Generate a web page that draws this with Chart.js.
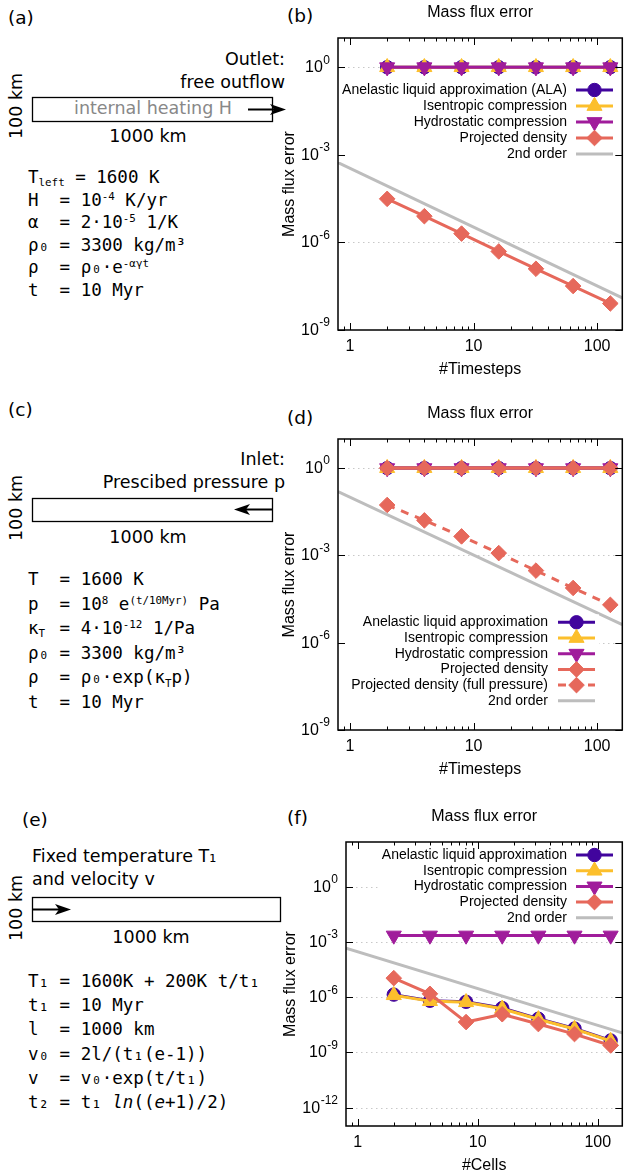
<!DOCTYPE html>
<html>
<head>
<meta charset="utf-8">
<script src="https://cdn.jsdelivr.net/npm/chart.js@4.4.1/dist/chart.umd.min.js"></script>
<style>
html, body { margin: 0; padding: 0; background: #fff; }
body { width: 627px; height: 1173px; position: relative; overflow: hidden; font-family: "DejaVu Sans", sans-serif; color: #000; }
.t { position: absolute; white-space: pre; line-height: 1; transform: translateY(-50%); }
.lab { font-size: 17.5px; }
.pl { font-size: 18.5px; }
.c { transform: translate(-50%, -50%); }
.v { transform: translate(-50%, -50%) rotate(-90deg); }
.eq { font-family: "DejaVu Sans Mono", monospace; font-size: 17.5px; }
.eq sup { font-size: 0.62em; position: relative; top: -0.55em; vertical-align: baseline; }
.eq sub { font-size: 0.62em; position: relative; top: 0.3em; vertical-align: baseline; }
.eq sub.w { display: inline-block; width: 10.5px; }
canvas { position: absolute; left: 280px; }
</style>
</head>
<body>

<svg width="627" height="1173" style="position:absolute;left:0;top:0">
  <g stroke="#000" stroke-width="1.3" fill="none">
    <rect x="32.5" y="97.5" width="240" height="24"/>
    <rect x="32.5" y="498.5" width="240" height="23"/>
    <rect x="32.5" y="897.5" width="248" height="24"/>
    <line x1="248" y1="109.5" x2="276" y2="109.5" stroke-width="2"/>
    <line x1="272" y1="509.5" x2="244" y2="509.5" stroke-width="2"/>
    <line x1="32" y1="909.5" x2="61" y2="909.5" stroke-width="2"/>
  </g>
  <g fill="#000">
    <polygon points="286,109.5 270,104 274,109.5 270,115"/>
    <polygon points="234,509.5 250,504 246,509.5 250,515"/>
    <polygon points="71,909.5 55,904 59,909.5 55,915"/>
  </g>
</svg>

<!-- (a) -->
<div class="t pl" style="left:8px;top:18px">(a)</div>
<div class="t lab" style="right:342px;top:60px">Outlet:</div>
<div class="t lab" style="right:342px;top:83px">free outflow</div>
<div class="t lab c" style="left:153px;top:109px;color:#888">internal heating H</div>
<div class="t lab v" style="left:17px;top:106px">100 km</div>
<div class="t lab c" style="left:148px;top:137px">1000 km</div>
<div class="t eq" style="left:28px;top:178px">T<sub>left</sub> = 1600 K</div>
<div class="t eq" style="left:28px;top:200.6px">H  = 10<sup>-4</sup> K/yr</div>
<div class="t eq" style="left:28px;top:223.2px">α  = 2·10<sup>-5</sup> 1/K</div>
<div class="t eq" style="left:28px;top:245.8px">ρ₀ = 3300 kg/m³</div>
<div class="t eq" style="left:28px;top:268.4px">ρ  = ρ₀·e<sup>-αγt</sup></div>
<div class="t eq" style="left:28px;top:291px">t  = 10 Myr</div>

<!-- (c) -->
<div class="t pl" style="left:8px;top:410px">(c)</div>
<div class="t lab" style="right:342px;top:460px">Inlet:</div>
<div class="t lab" style="right:342px;top:483px">Prescibed pressure p</div>
<div class="t lab v" style="left:17px;top:508px">100 km</div>
<div class="t lab c" style="left:148px;top:538px">1000 km</div>
<div class="t eq" style="left:28px;top:580px">T  = 1600 K</div>
<div class="t eq" style="left:28px;top:604.6px">p  = 10<sup>8</sup> e<sup>(t/10Myr)</sup> Pa</div>
<div class="t eq" style="left:28px;top:629.2px">κ<sub class="w">T</sub> = 4·10<sup>-12</sup> 1/Pa</div>
<div class="t eq" style="left:28px;top:653.8px">ρ₀ = 3300 kg/m³</div>
<div class="t eq" style="left:28px;top:678.4px">ρ  = ρ₀·exp(κ<sub>T</sub>p)</div>
<div class="t eq" style="left:28px;top:703px">t  = 10 Myr</div>

<!-- (e) -->
<div class="t pl" style="left:22px;top:820px">(e)</div>
<div class="t lab" style="left:32px;top:857px">Fixed temperature T₁</div>
<div class="t lab" style="left:32px;top:880px">and velocity v</div>
<div class="t lab v" style="left:17px;top:908px">100 km</div>
<div class="t lab c" style="left:151px;top:938px">1000 km</div>
<div class="t eq" style="left:28px;top:982px">T₁ = 1600K + 200K t/t₁</div>
<div class="t eq" style="left:28px;top:1006.2px">t₁ = 10 Myr</div>
<div class="t eq" style="left:28px;top:1030.4px">l  = 1000 km</div>
<div class="t eq" style="left:28px;top:1054.6px">v₀ = 2l/(t₁(e-1))</div>
<div class="t eq" style="left:28px;top:1078.8px">v  = v₀·exp(t/t₁)</div>
<div class="t eq" style="left:28px;top:1103px">t₂ = t₁ <i>ln</i>((<i>e</i>+1)/2)</div>

<!-- chart panel letters -->
<div class="t pl" style="left:287px;top:16px">(b)</div>
<div class="t pl" style="left:287px;top:418px">(d)</div>
<div class="t pl" style="left:287px;top:818px">(f)</div>

<canvas id="chartB" width="352" height="390" style="top:0px"></canvas>
<canvas id="chartD" width="352" height="390" style="top:390px"></canvas>
<canvas id="chartF" width="352" height="393" style="top:780px"></canvas>

<script>
// x values (timesteps / cells) and the 2nd-order guide end points
const steps = [2, 4, 8, 16, 32, 64, 128];
const cells = [2, 4, 8, 16, 32, 64, 128];
const guideX = [0.8, 160];

// tick positions
const xMajor = [1, 10, 100];
const xMinor = [0.9, 2, 3, 4, 5, 6, 7, 8, 9, 20, 30, 40, 50, 60, 70, 80, 90];
const yExpsBD = [0, -3, -6, -9];
const yExpsF = [0, -3, -6, -9, -12];

// (b) internal heating
const bAla = [1, 1, 1, 1, 1, 1, 1];
const bIsen = [1, 1, 1, 1, 1, 1, 1];
const bHydro = [1, 1, 1, 1, 1, 1, 1];
const bProj = [3.1e-5, 7.9e-6, 2.0e-6, 4.9e-7, 1.25e-7, 3.2e-8, 8.1e-9];
const bGuide = [5.4e-4, 1.26e-8];

// (d) prescribed pressure
const dAla = [1, 1, 1, 1, 1, 1, 1];
const dIsen = [1, 1, 1, 1, 1, 1, 1];
const dHydro = [1, 1, 1, 1, 1, 1, 1];
const dProj = [1, 1, 1, 1, 1, 1, 1];
const dProjFull = [5.4e-2, 1.6e-2, 4.5e-3, 1.2e-3, 3.0e-4, 7.6e-5, 2.0e-5];
const dGuide = [0.155, 4.2e-6];

// (f) fixed temperature and velocity
const fAla = [1.4e-6, 6.5e-7, 5.7e-7, 2.6e-7, 6.8e-8, 2.0e-8, 4.5e-9];
const fIsen = [1.3e-6, 6.2e-7, 5.4e-7, 2.4e-7, 6.4e-8, 1.9e-8, 4.2e-9];
const fHydro = [2.3e-3, 2.3e-3, 2.3e-3, 2.3e-3, 2.3e-3, 2.3e-3, 2.3e-3];
const fProj = [1.1e-5, 1.55e-6, 4.5e-8, 1.2e-7, 3.5e-8, 1.0e-8, 2.4e-9];
const fGuide = [4.7e-4, 1.17e-8];

const cAla = '#41049d';
const cIsen = '#fcbf2c';
const cHydro = '#a01c9b';
const cProj = '#e6685b';
const cGuide = '#bdbdbd';

const FONT = '"Liberation Sans", Arial, sans-serif';

function pts(xs, ys) {
  return xs.map((x, i) => ({ x: x, y: ys[i] }));
}

function series(label, xs, ys, color, kind, dashed) {
  const d = {
    label: label,
    data: pts(xs, ys),
    showLine: true,
    borderColor: color,
    backgroundColor: color,
    pointBackgroundColor: color,
    pointBorderColor: color,
    pointBorderWidth: 1,
    borderWidth: 3,
    pointRadius: 0,
    pointHoverRadius: 0
  };
  if (kind == 'circle') { d.pointStyle = 'circle'; d.pointRadius = 6.7; }
  if (kind == 'up') { d.pointStyle = 'triangle'; d.pointRadius = 8.7; }
  if (kind == 'down') { d.pointStyle = 'triangle'; d.pointRadius = 8.7; d.pointRotation = 180; }
  if (kind == 'diamond') { d.pointStyle = 'rectRot'; d.pointRadius = 7.8; }
  if (dashed) d.borderDash = [8, 7];
  d.pointHoverRadius = d.pointRadius;
  return d;
}

function marker(ctx, d, x, y) {
  ctx.fillStyle = d.pointBackgroundColor;
  ctx.strokeStyle = d.pointBorderColor;
  ctx.lineWidth = 1;
  if (Chart.helpers && Chart.helpers.drawPoint) {
    Chart.helpers.drawPoint(ctx, { pointStyle: d.pointStyle, radius: d.pointRadius, rotation: d.pointRotation || 0, borderWidth: 1 }, x, y);
    return;
  }
  const r = d.pointRadius;
  ctx.beginPath();
  if (d.pointStyle == 'circle') ctx.arc(x, y, r, 0, Math.PI * 2);
  else if (d.pointStyle == 'rectRot') { ctx.moveTo(x, y - r); ctx.lineTo(x + r, y); ctx.lineTo(x, y + r); ctx.lineTo(x - r, y); }
  else {
    const s = d.pointRotation ? -1 : 1;
    ctx.moveTo(x, y - s * r); ctx.lineTo(x + r * 0.866, y + s * r / 2); ctx.lineTo(x - r * 0.866, y + s * r / 2);
  }
  ctx.closePath(); ctx.fill(); ctx.stroke();
}

const framePlugin = {
  id: 'frame',
  beforeDatasetsDraw(chart) {
    const o = chart.options.plugins.frame;
    const a = chart.chartArea, ctx = chart.ctx, y = chart.scales.y;
    ctx.save();
    ctx.strokeStyle = '#c8c8c8';
    ctx.lineWidth = 1;
    ctx.setLineDash([1.5, 3.5]);
    o.yExps.forEach(e => {
      const py = Math.round(y.getPixelForValue(Math.pow(10, e))) + 0.5;
      if (py > a.bottom - 3) return;
      ctx.beginPath(); ctx.moveTo(a.left, py); ctx.lineTo(a.right, py); ctx.stroke();
    });
    ctx.restore();
  },
  afterDatasetsDraw(chart) {
    const o = chart.options.plugins.frame;
    const a = chart.chartArea, ctx = chart.ctx;
    const x = chart.scales.x, y = chart.scales.y;
    ctx.save();

    // key box
    ctx.font = '14px ' + FONT;
    const items = chart.data.datasets;
    let w = 0;
    items.forEach(d => { w = Math.max(w, ctx.measureText(d.label).width); });
    ctx.fillStyle = '#fff';
    const kx0 = o.keyRight - w - 4;
    ctx.fillRect(kx0, o.keyY - 8, o.sampleX1 + 4 - kx0, (items.length - 1) * o.keyGap + 16);
    items.forEach((d, i) => {
      const yy = o.keyY + i * o.keyGap;
      ctx.fillStyle = '#000';
      ctx.textAlign = 'right';
      ctx.textBaseline = 'middle';
      ctx.fillText(d.label, o.keyRight, yy);
      ctx.strokeStyle = d.borderColor;
      ctx.lineWidth = d.borderWidth;
      ctx.setLineDash(d.borderDash || []);
      ctx.beginPath(); ctx.moveTo(o.sampleX0, yy); ctx.lineTo(o.sampleX1, yy); ctx.stroke();
      ctx.setLineDash([]);
      if (d.pointRadius > 0) marker(ctx, d, (o.sampleX0 + o.sampleX1) / 2, yy);
    });

    // border and ticks
    ctx.strokeStyle = '#000';
    ctx.lineWidth = 1.5;
    ctx.strokeRect(a.left, a.top, a.right - a.left, a.bottom - a.top);
    ctx.lineWidth = 1;
    const tick = (v, len) => {
      const px = Math.round(x.getPixelForValue(v)) + 0.5;
      ctx.beginPath();
      ctx.moveTo(px, a.bottom); ctx.lineTo(px, a.bottom - len);
      ctx.moveTo(px, a.top); ctx.lineTo(px, a.top + len);
      ctx.stroke();
    };
    xMajor.forEach(v => tick(v, 7));
    xMinor.forEach(v => tick(v, 3.5));
    o.yExps.forEach(e => {
      const py = Math.round(y.getPixelForValue(Math.pow(10, e))) + 0.5;
      ctx.beginPath();
      ctx.moveTo(a.left, py); ctx.lineTo(a.left + 7, py);
      ctx.moveTo(a.right, py); ctx.lineTo(a.right - 7, py);
      ctx.stroke();
    });

    // tick labels
    ctx.fillStyle = '#000';
    ctx.textBaseline = 'middle';
    ctx.font = '16px ' + FONT;
    ctx.textAlign = 'center';
    xMajor.forEach(v => ctx.fillText(String(v), x.getPixelForValue(v), a.bottom + 17));
    o.yExps.forEach(e => {
      const py = y.getPixelForValue(Math.pow(10, e));
      const ex = String(e);
      ctx.font = '12px ' + FONT;
      const ew = ctx.measureText(ex).width;
      ctx.textAlign = 'left';
      ctx.fillText(ex, a.left - 8 - ew, py - 7);
      ctx.font = '16px ' + FONT;
      ctx.textAlign = 'right';
      ctx.fillText('10', a.left - 8 - ew - 0.5, py + 0.5);
    });

    // titles
    ctx.font = '16px ' + FONT;
    ctx.textAlign = 'center';
    const cx = (a.left + a.right) / 2;
    ctx.fillText('Mass flux error', cx, a.top - 25);
    ctx.fillText(o.xTitle, cx, a.bottom + 40);
    ctx.translate(o.yTitleX, (a.top + a.bottom) / 2);
    ctx.rotate(-Math.PI / 2);
    ctx.fillText('Mass flux error', 0, 0);
    ctx.restore();
  }
};

function makeChart(id, datasets, opts) {
  // later datasets drawn on top, like the original
  datasets.forEach((d, i) => { d.order = datasets.length - i; });
  return new Chart(document.getElementById(id), {
    type: 'scatter',
    data: { datasets: datasets },
    plugins: [framePlugin],
    options: {
      responsive: false,
      animation: false,
      devicePixelRatio: 1,
      events: [],
      layout: { padding: opts.padding },
      scales: {
        x: { type: 'logarithmic', min: 0.8, max: 160, display: false },
        y: { type: 'logarithmic', min: opts.yMin, max: opts.yMax, display: false }
      },
      plugins: {
        legend: { display: false },
        tooltip: { enabled: false },
        frame: opts.frame
      }
    }
  });
}

makeChart('chartB', [
  series('Anelastic liquid approximation (ALA)', steps, bAla, cAla, 'circle'),
  series('Isentropic compression', steps, bIsen, cIsen, 'up'),
  series('Hydrostatic compression', steps, bHydro, cHydro, 'down'),
  series('Projected density', steps, bProj, cProj, 'diamond'),
  series('2nd order', guideX, bGuide, cGuide, 'none')
], {
  padding: { left: 58, top: 38, right: 3, bottom: 60 },
  yMin: 1e-9, yMax: 1e1,
  frame: { yExps: yExpsBD, xTitle: '#Timesteps', yTitleX: 10, keyRight: 287, sampleX0: 296, sampleX1: 333, keyY: 90, keyGap: 16 }
});

makeChart('chartD', [
  series('Anelastic liquid approximation', steps, dAla, cAla, 'circle'),
  series('Isentropic compression', steps, dIsen, cIsen, 'up'),
  series('Hydrostatic compression', steps, dHydro, cHydro, 'down'),
  series('Projected density', steps, dProj, cProj, 'diamond'),
  series('Projected density (full pressure)', steps, dProjFull, cProj, 'diamond', true),
  series('2nd order', guideX, dGuide, cGuide, 'none')
], {
  padding: { left: 58, top: 49, right: 3, bottom: 50 },
  yMin: 1e-9, yMax: 1e1,
  frame: { yExps: yExpsBD, xTitle: '#Timesteps', yTitleX: 10, keyRight: 268, sampleX0: 278, sampleX1: 315, keyY: 232.3, keyGap: 15.7 }
});

makeChart('chartF', [
  series('Anelastic liquid approximation', cells, fAla, cAla, 'circle'),
  series('Isentropic compression', cells, fIsen, cIsen, 'up'),
  series('Hydrostatic compression', cells, fHydro, cHydro, 'down'),
  series('Projected density', cells, fProj, cProj, 'diamond'),
  series('2nd order', guideX, fGuide, cGuide, 'none')
], {
  padding: { left: 66, top: 62, right: 3, bottom: 47 },
  yMin: 1e-13, yMax: 280,
  frame: { yExps: yExpsF, xTitle: '#Cells', yTitleX: 11, keyRight: 287, sampleX0: 296, sampleX1: 333, keyY: 75, keyGap: 15.7 }
});
</script>
</body>
</html>
